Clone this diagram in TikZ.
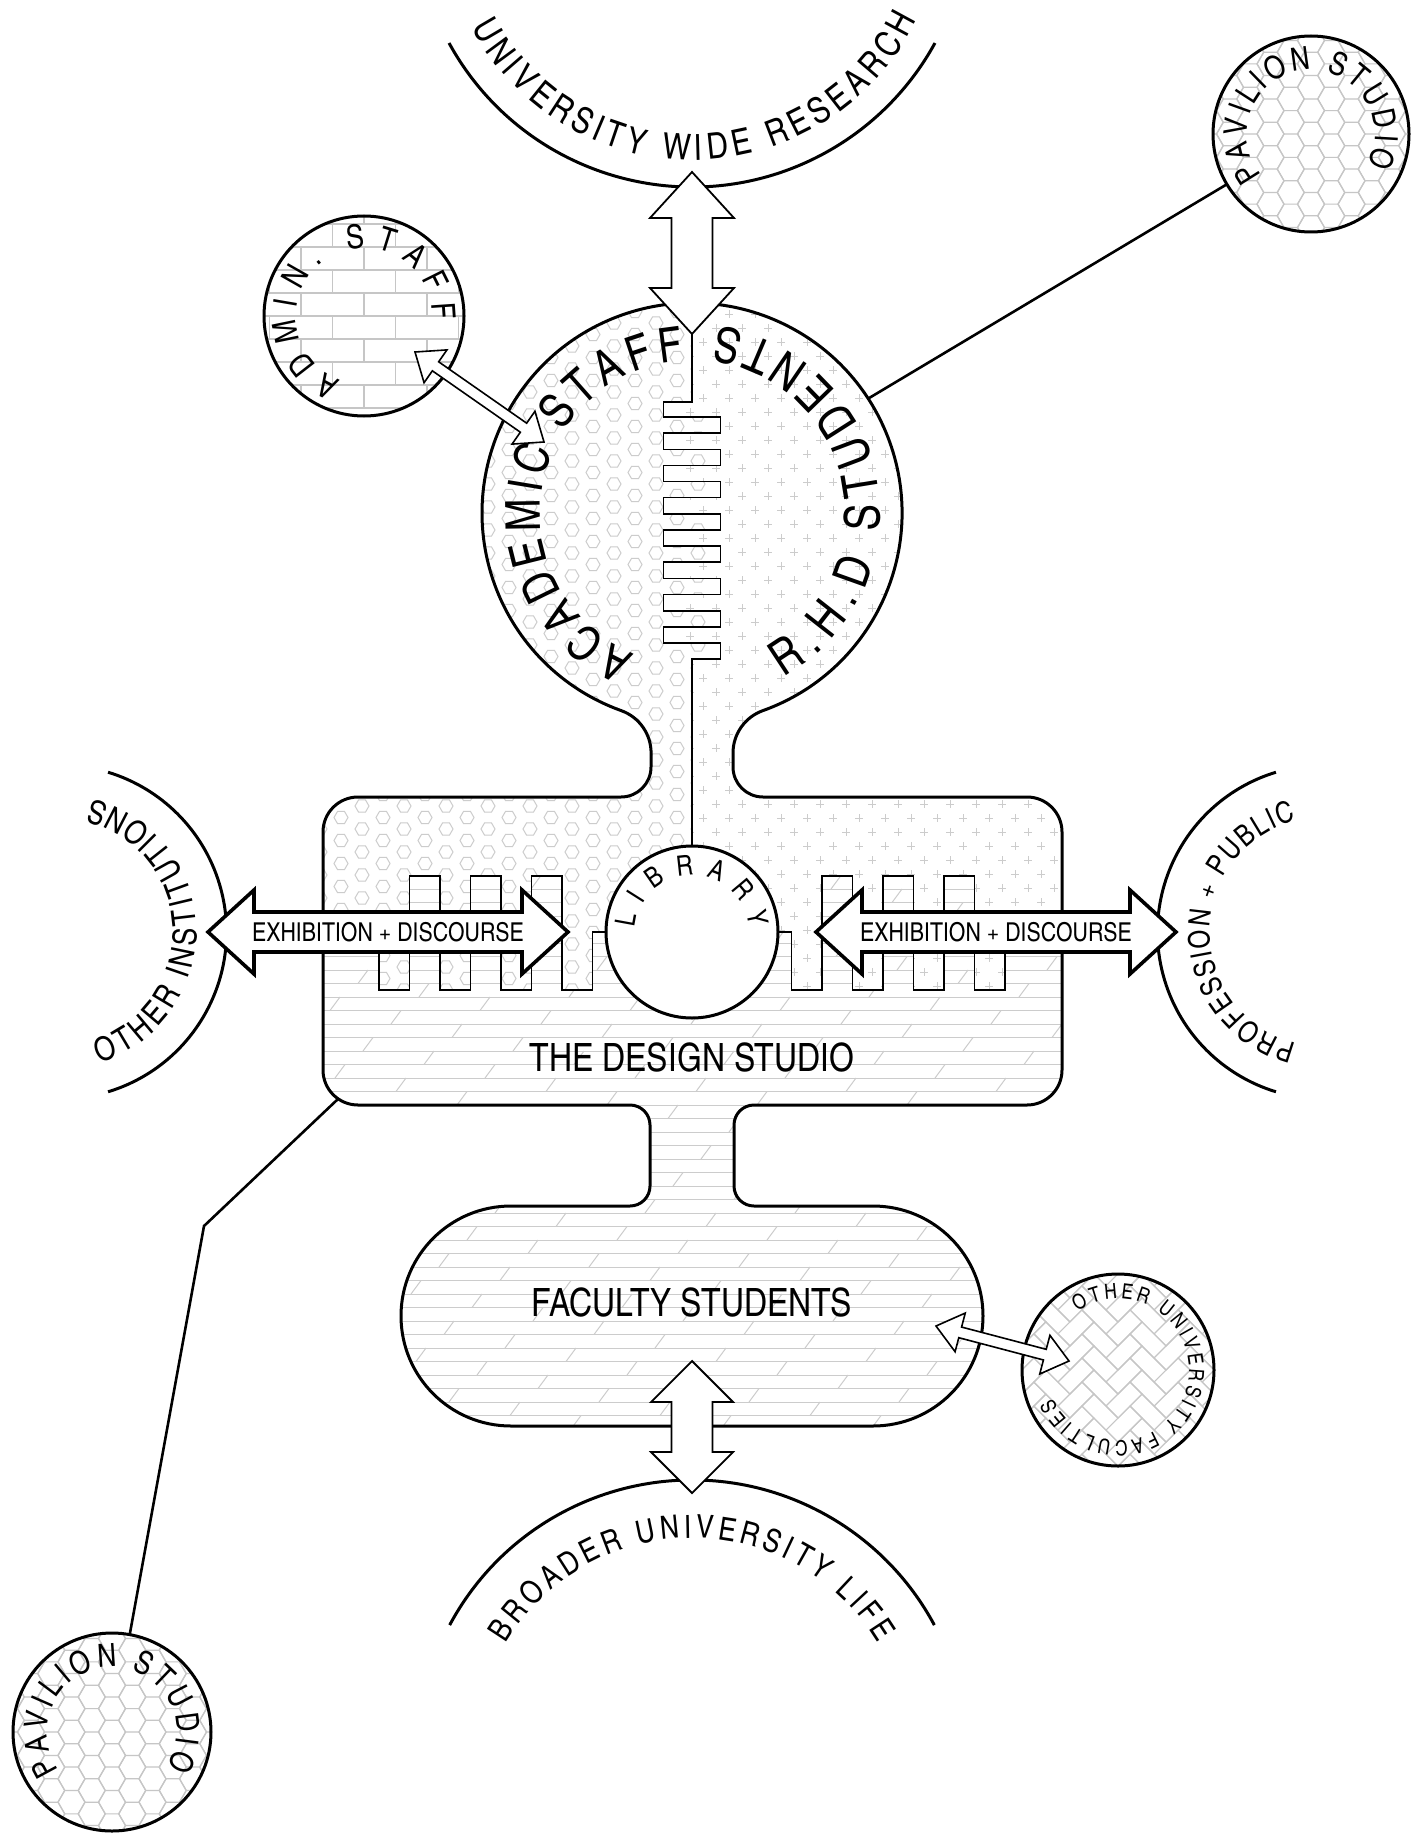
\documentclass[tikz,border=0pt]{standalone}
\usepackage{fontspec}
\setmainfont{texgyreheroscn-regular.otf}
\usetikzlibrary{calc,decorations.text}

\tikzset{
  outline/.style={line width=1.5pt,line join=round},
  thinline/.style={line width=0.8pt},
  pat/.style={draw=gray!40,line width=0.5pt},
  pat2/.style={draw=gray!45,line width=0.6pt},
  conn/.style={line width=1.3pt},
  bigarrow/.style={draw,fill=white,line width=0.9pt,line join=miter},
  smallarrow/.style={draw,fill=white,line width=0.8pt,line join=miter},
  exarrow/.style={draw,fill=white,line width=1.8pt,line join=miter},
  ringnode/.style={circle,inner sep=0pt},
}

\newcommand\arctext[6]{%
  \path[decorate,decoration={text along path,text align={fit to path},
    text={|\fontsize{#5}{#5}\selectfont|#6}}]
    (#1) ++(#3:#2) arc[start angle=#3,end angle=#4,radius=#2];}

\newcommand\blockarrow[6][]{%
  \draw[#1] (#2) -- ($(#2)!#4!(#3)!#5!90:(#3)$) -- ($(#2)!#4!(#3)!#6!90:(#3)$)
   -- ($(#3)!#4!(#2)!#6!-90:(#2)$) -- ($(#3)!#4!(#2)!#5!-90:(#2)$) -- (#3)
   -- ($(#3)!#4!(#2)!#5!90:(#2)$) -- ($(#3)!#4!(#2)!#6!90:(#2)$)
   -- ($(#2)!#4!(#3)!#6!-90:(#3)$) -- ($(#2)!#4!(#3)!#5!-90:(#3)$) -- cycle;}

\newcommand\honeycomb[2]{%
  \foreach \i in {-6,...,6}{
    \draw[pat2] \foreach \j in {-5,...,5}{
      ({#1+20.25*\i+13.5},{#2+23.38*\j+11.69*mod(abs(\i),2)}) -- ++(-6.75,11.69) -- ++(-13.5,0)
      -- ++(-6.75,-11.69) -- ++(6.75,-11.69) -- ++(13.5,0) -- cycle};}}

\def\blob{(651,-753) -- (651,-767) arc[start angle=0,end angle=-90,radius=30]
 -- (358,-797) arc[start angle=90,end angle=180,radius=35]
 -- (323,-1070) arc[start angle=180,end angle=270,radius=35]
 -- (630,-1105) arc[start angle=90,end angle=0,radius=20]
 -- (650,-1186) arc[start angle=0,end angle=-90,radius=20]
 -- (511,-1206) arc[start angle=90,end angle=270,radius=110]
 -- (873,-1426) arc[start angle=-90,end angle=90,radius=110]
 -- (754,-1206) arc[start angle=270,end angle=180,radius=20]
 -- (734,-1125) arc[start angle=180,end angle=90,radius=20]
 -- (1027,-1105) arc[start angle=-90,end angle=0,radius=35]
 -- (1062,-832) arc[start angle=0,end angle=90,radius=35]
 -- (763,-797) arc[start angle=270,end angle=180,radius=30]
 -- (733,-753) arc[start angle=180,end angle=109.7,radius=45]
 arc[start angle=-70.3,end angle=250.3,radius=210]
 arc[start angle=70.3,end angle=0,radius=45] -- cycle}

\def\comb{-- (663.5,-402) -- (663.5,-417) -- (720.5,-417) -- (720.5,-433) -- (663.5,-433)
 -- (663.5,-449.3) -- (720.5,-449.3) -- (720.5,-465.3) -- (663.5,-465.3)
 -- (663.5,-481.6) -- (720.5,-481.6) -- (720.5,-497.6) -- (663.5,-497.6)
 -- (663.5,-513.9) -- (720.5,-513.9) -- (720.5,-529.9) -- (663.5,-529.9)
 -- (663.5,-546.2) -- (720.5,-546.2) -- (720.5,-562.2) -- (663.5,-562.2)
 -- (663.5,-578.5) -- (720.5,-578.5) -- (720.5,-594.5) -- (663.5,-594.5)
 -- (663.5,-610.8) -- (720.5,-610.8) -- (720.5,-626.8) -- (663.5,-626.8)
 -- (663.5,-643.1) -- (720.5,-643.1) -- (720.5,-659.1) -- (692,-659.1)}

\def\lwave{-- (592.5,-990) -- (562,-990) -- (562,-876) -- (531.5,-876) -- (531.5,-990)
 -- (501,-990) -- (501,-876) -- (470.5,-876) -- (470.5,-990) -- (440,-990) -- (440,-876)
 -- (409.5,-876) -- (409.5,-990) -- (379,-990) -- (379,-932)}
\def\rwave{-- (791.5,-990) -- (822,-990) -- (822,-876) -- (852.5,-876) -- (852.5,-990)
 -- (883,-990) -- (883,-876) -- (913.5,-876) -- (913.5,-990) -- (944,-990) -- (944,-876)
 -- (974.5,-876) -- (974.5,-990) -- (1005,-990) -- (1005,-932)}

\def\hexpoly{(0,0) -- (692,0) -- (692,-402) \comb -- (692,-932) -- (592.5,-932) \lwave -- (0,-932) -- cycle}
\def\pluspoly{(1410,0) -- (692,0) -- (692,-402) \comb -- (692,-932) -- (791.5,-932) \rwave -- (1410,-932) -- cycle}

\begin{document}
\begin{tikzpicture}[x=0.5pt,y=0.5pt]
\fill[white] (0,0) rectangle (1410,-1835);
\useasboundingbox (0,0) rectangle (1410,-1835);

% ---------- named points ----------
\coordinate (bigC) at (692,-513);
\node[ringnode,minimum size=98pt] (pavTR) at (1311,-134) {};
\node[ringnode,minimum size=99pt] (pavBL) at (112,-1732) {};
\node[ringnode,minimum size=100pt] (admin) at (364,-316) {};
\node[ringnode,minimum size=96pt] (othU) at (1118,-1370) {};

% ---------- main blob patterns ----------
\begin{scope}
  \clip \blob;
  % floorboard pattern (lower part)
  \foreach \j in {0,...,42}{\draw[pat] (320,{-862-13.5*\j}) -- (1065,{-862-13.5*\j});}
  \foreach \j in {0,...,41}{
    \draw[pat] \foreach \m in {0,...,5}{
      ({170+150*\m+mod(61*\j,150)},{-875.5-13.5*\j}) -- ++(10,13.5)};}
  % hexagon dots (academic side)
  \begin{scope}
    \clip \hexpoly;
    \fill[white] (0,0) rectangle (1410,-1835);
    \foreach \i in {0,...,18}{
      \draw[pat] \foreach \j in {0,...,30}{
        ({327+21*\i},{-300-23*\j-11.5*mod(\i,2)}) -- ++(-3.5,6.06) -- ++(-7,0) -- ++(-3.5,-6.06)
        -- ++(3.5,-6.06) -- ++(7,0) -- cycle};}
  \end{scope}
  % plus signs (R.H.D. side)
  \begin{scope}
    \clip \pluspoly;
    \fill[white] (0,0) rectangle (1410,-1835);
    \foreach \i in {0,...,15}{
      \draw[pat] \foreach \j in {0,...,49}{
        ({686+26*\i+13*mod(\j,2)},{-300-14*\j}) -- ++(8,0)
        ({690+26*\i+13*mod(\j,2)},{-296-14*\j}) -- ++(0,-8)};}
  \end{scope}
\end{scope}

% dividing lines
\draw[thinline] (692,-334) -- (692,-402) \comb -- (692,-880);
\draw[thinline] (610,-932) -- (592.5,-932) \lwave;
\draw[thinline] (775,-932) -- (791.5,-932) \rwave;

% blob outline
\draw[outline] \blob;

% library
\node[ringnode,minimum size=86pt,draw,fill=white,line width=1.5pt] (lib) at (692,-932) {};
\arctext{692,-932}{57}{176}{4}{14}{LIBRARY}

% ---------- satellite circles ----------
\begin{scope}
  \clip (admin.center) circle[radius=100];
  \foreach \k in {-5,...,5}{\draw[pat2] (260,{-316+23*\k}) -- (470,{-316+23*\k});}
  \foreach \k in {-5,...,4}{
    \draw[pat2] \foreach \m in {-3,...,3}{({364+63*\m+31.5*mod(abs(\k),2)},{-316+23*\k}) -- ++(0,23)};}
\end{scope}
\draw[outline] (admin.center) circle[radius=100];
\arctext{364,-316}{68}{250}{-3}{16.5}{ADMIN. STAFF}

\begin{scope}
  \clip (pavTR.center) circle[radius=98];
  \honeycomb{1311}{-134}
\end{scope}
\draw[outline] (pavTR.center) circle[radius=98];
\arctext{1311,-134}{64}{220}{-28}{16}{PAVILION STUDIO}

\begin{scope}
  \clip (pavBL.center) circle[radius=99];
  \honeycomb{112}{-1732}
\end{scope}
\draw[outline] (pavBL.center) circle[radius=99];
\arctext{112,-1732}{65}{216}{-32}{16}{PAVILION STUDIO}

\begin{scope}
  \clip (othU.center) circle[radius=96];
  \begin{scope}[shift={(1118,-1370)},rotate=45]
    \foreach \t in {-7,...,7}{
      \draw[pat2] \foreach \n in {-3,...,3}{
        ({17*(\t+4*\n)},{17*\t}) rectangle ++(34,17)
        ({17*(\t+4*\n)},{17*(\t+1)}) rectangle ++(17,34)};}
  \end{scope}
\end{scope}
\draw[outline] (othU.center) circle[radius=96];
\arctext{1118,-1370}{71}{125}{-157}{10.5}{OTHER UNIVERSITY FACULTIES}

% ---------- outer arcs ----------
\draw[outline] (692,90) ++(208.7:277) arc[start angle=208.7,end angle=331.3,radius=277];
\arctext{692,90}{250}{208}{334}{18}{UNIVERSITY WIDE RESEARCH}
\draw[outline] (692,-1755) ++(151.8:275) arc[start angle=151.8,end angle=28.2,radius=275];
\arctext{692,-1755}{217}{149}{31}{16}{BROADER UNIVERSITY LIFE}
\draw[outline] (59.5,-932) ++(-73.1:167) arc[start angle=-73.1,end angle=73.1,radius=167];
\arctext{59.5,-932}{137}{-73}{76}{16.5}{OTHER INSTITUTIONS}
\draw[outline] (1324.5,-932) ++(106.9:167) arc[start angle=106.9,end angle=253.1,radius=167];
\arctext{1324.5,-932}{115}{256}{104}{14.8}{PROFESSION + PUBLIC}

% ---------- connector lines ----------
\coordinate (rhdpt) at ($(bigC)+(33:210)$);
\draw[conn] (rhdpt) -- (pavTR);
\coordinate (studioBL) at (338,-1099);
\coordinate (bend) at (204,-1226);
\draw[conn,line join=miter] (studioBL) -- (bend) -- (pavBL);

% ---------- block arrows ----------
\coordinate (tA) at (692,-172); \coordinate (tB) at (692,-334);
\blockarrow[bigarrow]{tA}{tB}{23pt}{21pt}{10.25pt}
\coordinate (bA) at (692,-1361); \coordinate (bB) at (692,-1493);
\blockarrow[bigarrow]{bA}{bB}{20.5pt}{20.5pt}{10.25pt}
\coordinate (aA) at (415,-352); \coordinate (aB) at (544,-442);
\blockarrow[smallarrow]{aA}{aB}{12.5pt}{10pt}{2.75pt}
\coordinate (fA) at (936,-1326); \coordinate (fB) at (1069,-1361);
\blockarrow[smallarrow]{fA}{fB}{12.5pt}{10pt}{2.75pt}
\coordinate (eL1) at (208,-932); \coordinate (eL2) at (568,-932);
\blockarrow[exarrow]{eL1}{eL2}{23pt}{21pt}{10pt}
\coordinate (eR1) at (816,-932); \coordinate (eR2) at (1176,-932);
\blockarrow[exarrow]{eR1}{eR2}{23pt}{21pt}{10pt}

% ---------- texts ----------
\node[font=\fontsize{13}{13}\selectfont,inner sep=0pt] (exLt) at (388,-932) {EXHIBITION + DISCOURSE};
\node[font=\fontsize{13}{13}\selectfont,inner sep=0pt] (exRt) at (996,-932) {EXHIBITION + DISCOURSE};
\node[font=\fontsize{19.5}{19.5}\selectfont,inner sep=0pt] (studio) at (692,-1057) {THE DESIGN STUDIO};
\node[font=\fontsize{19.5}{19.5}\selectfont,inner sep=0pt] (faculty) at (692,-1302) {FACULTY STUDENTS};
\arctext{692,-513}{152}{248}{93}{24}{ACADEMIC STAFF}
\arctext{692,-513}{188}{-61}{82}{24.5}{R.H.D STUDENTS}
\end{tikzpicture}
\end{document}
